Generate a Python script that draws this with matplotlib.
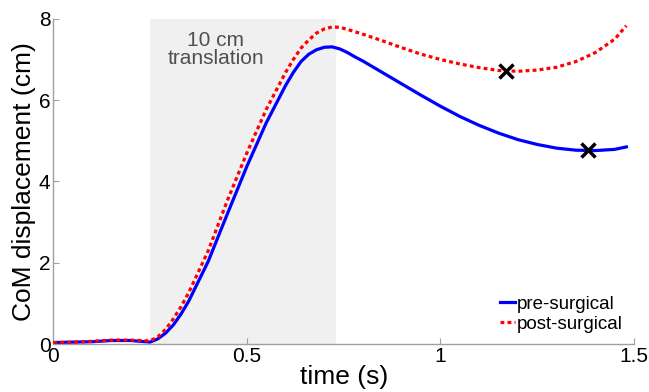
import matplotlib
matplotlib.use("Agg")
import matplotlib.pyplot as plt

plt.rcParams["font.family"] = ["Liberation Sans", "DejaVu Sans"]

# time grid (s) and CoM displacement (cm)
time_s = [0.0, 0.05, 0.10, 0.15, 0.20, 0.25, 0.27, 0.29, 0.31, 0.33, 0.35, 0.40,
          0.45, 0.50, 0.55, 0.60, 0.62, 0.64, 0.66, 0.68, 0.70, 0.72, 0.74, 0.76,
          0.78, 0.80, 0.85, 0.90, 0.95, 1.00, 1.05, 1.10, 1.15, 1.20, 1.25, 1.30,
          1.35, 1.40, 1.45, 1.48]
pre_surgical = [0.04, 0.05, 0.06, 0.09, 0.09, 0.05, 0.13, 0.27, 0.47, 0.74, 1.06, 2.03,
                3.21, 4.37, 5.44, 6.36, 6.68, 6.95, 7.13, 7.24, 7.30, 7.31, 7.26, 7.17,
                7.06, 6.96, 6.68, 6.40, 6.12, 5.85, 5.60, 5.38, 5.19, 5.03, 4.91, 4.82,
                4.77, 4.76, 4.79, 4.85]
post_surgical = [0.04, 0.05, 0.07, 0.10, 0.10, 0.08, 0.18, 0.36, 0.62, 0.92, 1.27, 2.29,
                 3.54, 4.70, 5.77, 6.68, 7.00, 7.28, 7.48, 7.65, 7.75, 7.80, 7.79, 7.74,
                 7.68, 7.62, 7.46, 7.29, 7.13, 7.00, 6.89, 6.80, 6.73, 6.71, 6.74, 6.81,
                 6.95, 7.17, 7.50, 7.83]

# marked points (x) on each curve
pre_mark = (1.38, 4.77)
post_mark = (1.17, 6.72)

# perturbation window
window = (0.25, 0.73)

fig = plt.figure(figsize=(6.49, 3.92), dpi=100)
ax = fig.add_axes([0.082, 0.122, 0.895, 0.830])

ax.axvspan(window[0], window[1], color="#f0f0f0", lw=0, zorder=0)
ax.text(0.42, 7.25, "10 cm\ntranslation", ha="center", va="center",
        fontsize=15, color="#505050", linespacing=0.95)

ax.plot(time_s, pre_surgical, color="#0000ff", lw=2.3, label="pre-surgical", zorder=2)
ax.plot(time_s, post_surgical, color="#ff0000", lw=2.3, linestyle=(0, (1.2, 1.0)),
        dash_capstyle="butt", label="post-surgical", zorder=3)
for px, py in (pre_mark, post_mark):
    ax.plot(px, py, marker="x", color="black", ms=10, mew=2.5, zorder=4)

ax.set_xlim(0, 1.5)
ax.set_ylim(0, 8)
ax.set_xticks([0, 0.5, 1, 1.5])
ax.set_xticklabels(["0", "0.5", "1", "1.5"])
ax.set_yticks([0, 2, 4, 6, 8])
for s in ("top", "right"):
    ax.spines[s].set_visible(False)
for s in ("left", "bottom"):
    ax.spines[s].set_color("#a0a0a0")
    ax.spines[s].set_linewidth(1.0)
ax.tick_params(direction="in", length=4, color="#a0a0a0", labelsize=15, pad=2)

ax.set_xlabel("time (s)", fontsize=19, labelpad=-1)
ax.set_ylabel("CoM displacement (cm)", fontsize=19, labelpad=2)

ax.legend(loc="lower right", frameon=False, fontsize=13.5, handlelength=0.8,
          handletextpad=0.1, labelspacing=0.15, borderaxespad=0.2)

fig.savefig("out.png", dpi=100)
